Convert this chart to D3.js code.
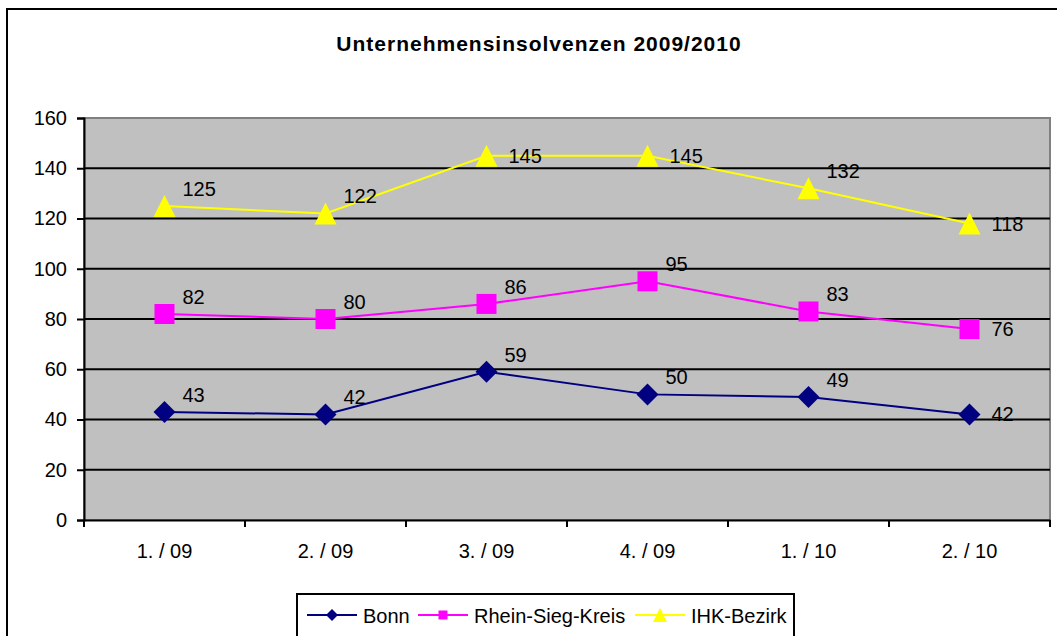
<!DOCTYPE html>
<html>
<head>
<meta charset="utf-8">
<script src="https://cdn.jsdelivr.net/npm/d3@7"></script>
<style>
  body { margin: 0; background: #fff; }
  svg { display: block; font-family: "Liberation Sans", Arial, sans-serif; }
</style>
</head>
<body>
<div id="chart"></div>
<script>
const quarters = ["1. / 09", "2. / 09", "3. / 09", "4. / 09", "1. / 10", "2. / 10"];
const bonn = [43, 42, 59, 50, 49, 42];
const rheinSieg = [82, 80, 86, 95, 83, 76];
const ihkBezirk = [125, 122, 145, 145, 132, 118];
const seriesNames = ["Bonn", "Rhein-Sieg-Kreis", "IHK-Bezirk"];
const yTicks = [0, 20, 40, 60, 80, 100, 120, 140, 160];

const width = 1057, height = 636;
const plot = {left: 84, right: 1050, top: 118, bottom: 520};
const fontSize = 20;

// marker shapes, r = half width
const shapes = {
  diamond: r => `M0,${-r}L${r},0L0,${r}L${-r},0Z`,
  square: r => `M${-r},${-r}H${r}V${r}H${-r}Z`,
  triangle: r => `M0,${-r}L${r},${r}L${-r},${r}Z`
};

const series = [
  {name: seriesNames[0], values: bonn, color: "#000080", shape: "diamond", r: 11, lr: 6},
  {name: seriesNames[1], values: rheinSieg, color: "#FF00FF", shape: "square", r: 10, lr: 4.5},
  {name: seriesNames[2], values: ihkBezirk, color: "#FFFF00", shape: "triangle", r: 11, lr: 7}
];

const svg = d3.select("#chart").append("svg")
  .attr("width", width)
  .attr("height", height);

// outer frame
svg.append("rect")
  .attr("x", 7).attr("y", 9)
  .attr("width", 1060).attr("height", 640)
  .attr("fill", "#fff")
  .attr("stroke", "#000")
  .attr("stroke-width", 2);

svg.append("text")
  .attr("x", 539).attr("y", 51)
  .attr("text-anchor", "middle")
  .attr("font-size", 21)
  .attr("font-weight", "bold")
  .attr("letter-spacing", 1)
  .text("Unternehmensinsolvenzen 2009/2010");

const x = d3.scaleBand()
  .domain(quarters)
  .range([plot.left, plot.right]);

const y = d3.scaleLinear()
  .domain([0, 160])
  .range([plot.bottom, plot.top]);

// plot area
svg.append("rect")
  .attr("x", plot.left).attr("y", plot.top)
  .attr("width", plot.right - plot.left).attr("height", plot.bottom - plot.top)
  .attr("fill", "#C0C0C0")
  .attr("stroke", "#808080")
  .attr("stroke-width", 2);

// gridlines
svg.append("g")
  .selectAll("line")
  .data(yTicks.filter(d => d > 0 && d < 160))
  .join("line")
  .attr("x1", plot.left).attr("x2", plot.right)
  .attr("y1", d => y(d)).attr("y2", d => y(d))
  .attr("stroke", "#000")
  .attr("stroke-width", 2);

// y axis
const yAxis = svg.append("g")
  .attr("transform", `translate(${plot.left},0)`)
  .call(d3.axisLeft(y).tickValues(yTicks).tickSize(7).tickPadding(10));
yAxis.select(".domain").attr("stroke", "#000").attr("stroke-width", 2);
yAxis.selectAll(".tick line").attr("stroke", "#000").attr("stroke-width", 2);
yAxis.selectAll(".tick text")
  .attr("font-size", fontSize)
  .attr("font-family", "Liberation Sans, Arial, sans-serif")
  .attr("fill", "#000");

// x axis
const xAxis = svg.append("g")
  .attr("transform", `translate(0,${plot.bottom})`)
  .call(d3.axisBottom(x).tickSize(0).tickPadding(24));
xAxis.select(".domain").attr("stroke", "#000").attr("stroke-width", 2);
xAxis.selectAll(".tick text")
  .attr("font-size", fontSize)
  .attr("font-family", "Liberation Sans, Arial, sans-serif")
  .attr("fill", "#000");

// category separator ticks
svg.append("g")
  .selectAll("line")
  .data(quarters.concat([null]))
  .join("line")
  .attr("x1", d => d === null ? plot.right : x(d))
  .attr("x2", d => d === null ? plot.right : x(d))
  .attr("y1", plot.bottom)
  .attr("y2", plot.bottom + 7)
  .attr("stroke", "#000")
  .attr("stroke-width", 2);

const cx = d => x(d) + x.bandwidth() / 2;
const last = quarters.length - 1;
// labels sit above-right, or right-centred at the top and at the last point
const sideLabel = (d, i) => i === last || d >= 145;

const line = d3.line()
  .x((d, i) => cx(quarters[i]))
  .y(d => y(d));

series.forEach(s => {
  const g = svg.append("g");
  g.append("path")
    .attr("d", line(s.values))
    .attr("fill", "none")
    .attr("stroke", s.color)
    .attr("stroke-width", 2);

  g.selectAll("path.marker")
    .data(s.values)
    .join("path")
    .attr("class", "marker")
    .attr("d", shapes[s.shape](s.r))
    .attr("transform", (d, i) => `translate(${cx(quarters[i])},${y(d)})`)
    .attr("fill", s.color);

  g.selectAll("text")
    .data(s.values)
    .join("text")
    .attr("x", (d, i) => cx(quarters[i]) + (sideLabel(d, i) ? 22 : 18))
    .attr("y", (d, i) => y(d) + (sideLabel(d, i) ? 7 : -10))
    .attr("font-size", fontSize)
    .attr("fill", "#000")
    .text(d => d);
});

// legend
const legend = svg.append("g");
legend.append("rect")
  .attr("x", 297).attr("y", 594)
  .attr("width", 497).attr("height", 60)
  .attr("fill", "#fff")
  .attr("stroke", "#000")
  .attr("stroke-width", 2);

const legendX = [307, 418, 635];
series.forEach((s, i) => {
  const lx = legendX[i];
  const ly = 615;
  legend.append("line")
    .attr("x1", lx).attr("x2", lx + 50)
    .attr("y1", ly).attr("y2", ly)
    .attr("stroke", s.color)
    .attr("stroke-width", 2);
  legend.append("path")
    .attr("d", shapes[s.shape](s.lr))
    .attr("transform", `translate(${lx + 25},${ly})`)
    .attr("fill", s.color);
  legend.append("text")
    .attr("x", lx + 56)
    .attr("y", ly + 8)
    .attr("font-size", fontSize)
    .attr("fill", "#000")
    .text(s.name);
});
</script>
</body>
</html>
